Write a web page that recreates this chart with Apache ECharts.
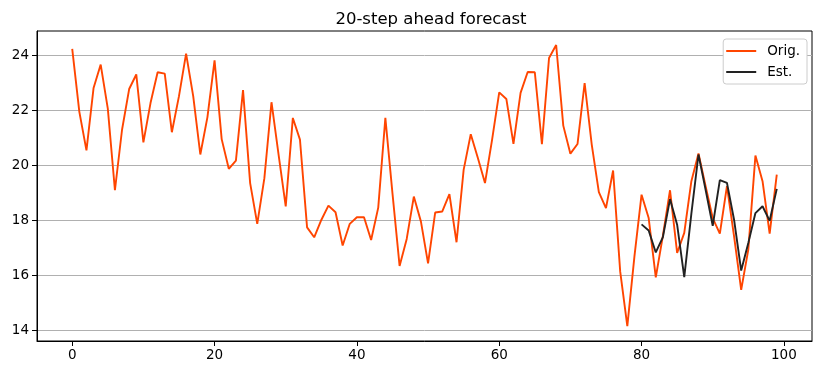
<!DOCTYPE html>
<html>
<head>
<meta charset="utf-8">
<script src="https://cdn.jsdelivr.net/npm/echarts@6/dist/echarts.min.js"></script>
<style>html,body{margin:0;padding:0;background:#fff;}#c{width:822px;height:374px;}</style>
</head>
<body>
<div id="c"></div>
<script>
const titleText = "20-step ahead forecast";
const origName = "Orig.";
const estName = "Est.";
const origValues = [
  24.24, 21.95, 20.55, 22.82, 23.67, 22.07, 19.10, 21.30, 22.78, 23.31,
  20.84, 22.27, 23.39, 23.34, 21.21, 22.52, 24.07, 22.52, 20.40, 21.76,
  23.82, 20.96, 19.88, 20.18, 22.74, 19.36, 17.88, 19.54, 22.30, 20.39,
  18.51, 21.73, 20.94, 17.75, 17.39, 18.02, 18.54, 18.30, 17.09, 17.88,
  18.12, 18.12, 17.29, 18.47, 21.73, 18.99, 16.35, 17.33, 18.87, 17.96,
  16.44, 18.29, 18.33, 18.96, 17.21, 19.84, 21.14, 20.27, 19.36, 20.94,
  22.66, 22.42, 20.79, 22.64, 23.40, 23.39, 20.78, 23.91, 24.38, 21.45,
  20.43, 20.78, 23.00, 20.76, 19.03, 18.45, 19.82, 16.14, 14.16, 16.70,
  18.94, 18.09, 15.93, 17.45, 19.10, 16.82, 17.55, 19.43, 20.44, 19.25,
  18.09, 17.52, 19.25, 17.42, 15.48, 16.94, 20.36, 19.43, 17.52, 19.67
];
const estStart = 80;
const estValues = [
  17.86, 17.64, 16.84, 17.40, 18.78, 17.85, 15.94, 18.25, 20.40, 19.12,
  17.81, 19.47, 19.37, 18.03, 16.18, 17.18, 18.27, 18.52, 17.99, 19.15
];
const xTicks = [0, 20, 40, 60, 80, 100];
const yTicks = [14, 16, 18, 20, 22, 24];

const origData = origValues.map((v, i) => [i, v]);
const estData = estValues.map((v, i) => [estStart + i, v]);

const font = "DejaVu Sans";
const chart = echarts.init(document.getElementById('c'), null, {renderer: 'canvas'});
chart.setOption({
  animation: false,
  backgroundColor: '#ffffff',
  title: {
    text: titleText,
    left: 426, top: 6, textAlign: 'center',
    textStyle: {fontFamily: font, fontSize: 16.5, fontWeight: 'normal', color: '#000'}
  },
  legend: {
    orient: 'vertical',
    right: 15, top: 39,
    padding: [5, 7, 5, 3],
    itemWidth: 30, itemHeight: 14, itemGap: 7,
    backgroundColor: '#ffffff',
    borderColor: '#cccccc', borderWidth: 1, borderRadius: 3,
    textStyle: {fontFamily: font, fontSize: 13.5, color: '#000', padding: [0, 0, 0, 6]},
    data: [{name: origName, icon: 'path://M0,0 L15,0 L15,1 L0,1 Z'}, {name: estName, icon: 'path://M0,0 L15,0 L15,1 L0,1 Z'}]
  },
  grid: {
    left: 37, right: 10, top: 31, bottom: 33,
    show: true, borderColor: '#000', borderWidth: 1
  },
  xAxis: {
    type: 'value', min: -4.95, max: 103.95,
    axisLine: {show: true, onZero: false, lineStyle: {color: '#000', width: 1}},
    axisTick: {show: true, length: 5, customValues: xTicks, lineStyle: {color: '#000'}},
    axisLabel: {customValues: xTicks, fontFamily: font, fontSize: 13.5, color: '#000', margin: 7},
    splitLine: {show: false}
  },
  yAxis: {
    type: 'value', min: 13.62, max: 24.89,
    axisLine: {show: true, onZero: false, lineStyle: {color: '#000', width: 1}},
    axisTick: {show: true, length: 5, customValues: yTicks, lineStyle: {color: '#000'}},
    axisLabel: {customValues: yTicks, fontFamily: font, fontSize: 13.5, color: '#000', margin: 8},
    splitLine: {show: true, lineStyle: {color: '#b0b0b0', width: 1}}
  },
  series: [
    {name: origName, type: 'line', data: origData, symbol: 'none', color: '#ff4500',
     lineStyle: {color: '#ff4500', width: 1.9}},
    {name: estName, type: 'line', data: estData, symbol: 'none', color: '#222222',
     lineStyle: {color: '#222222', width: 1.9}}
  ]
});
</script>
</body>
</html>
